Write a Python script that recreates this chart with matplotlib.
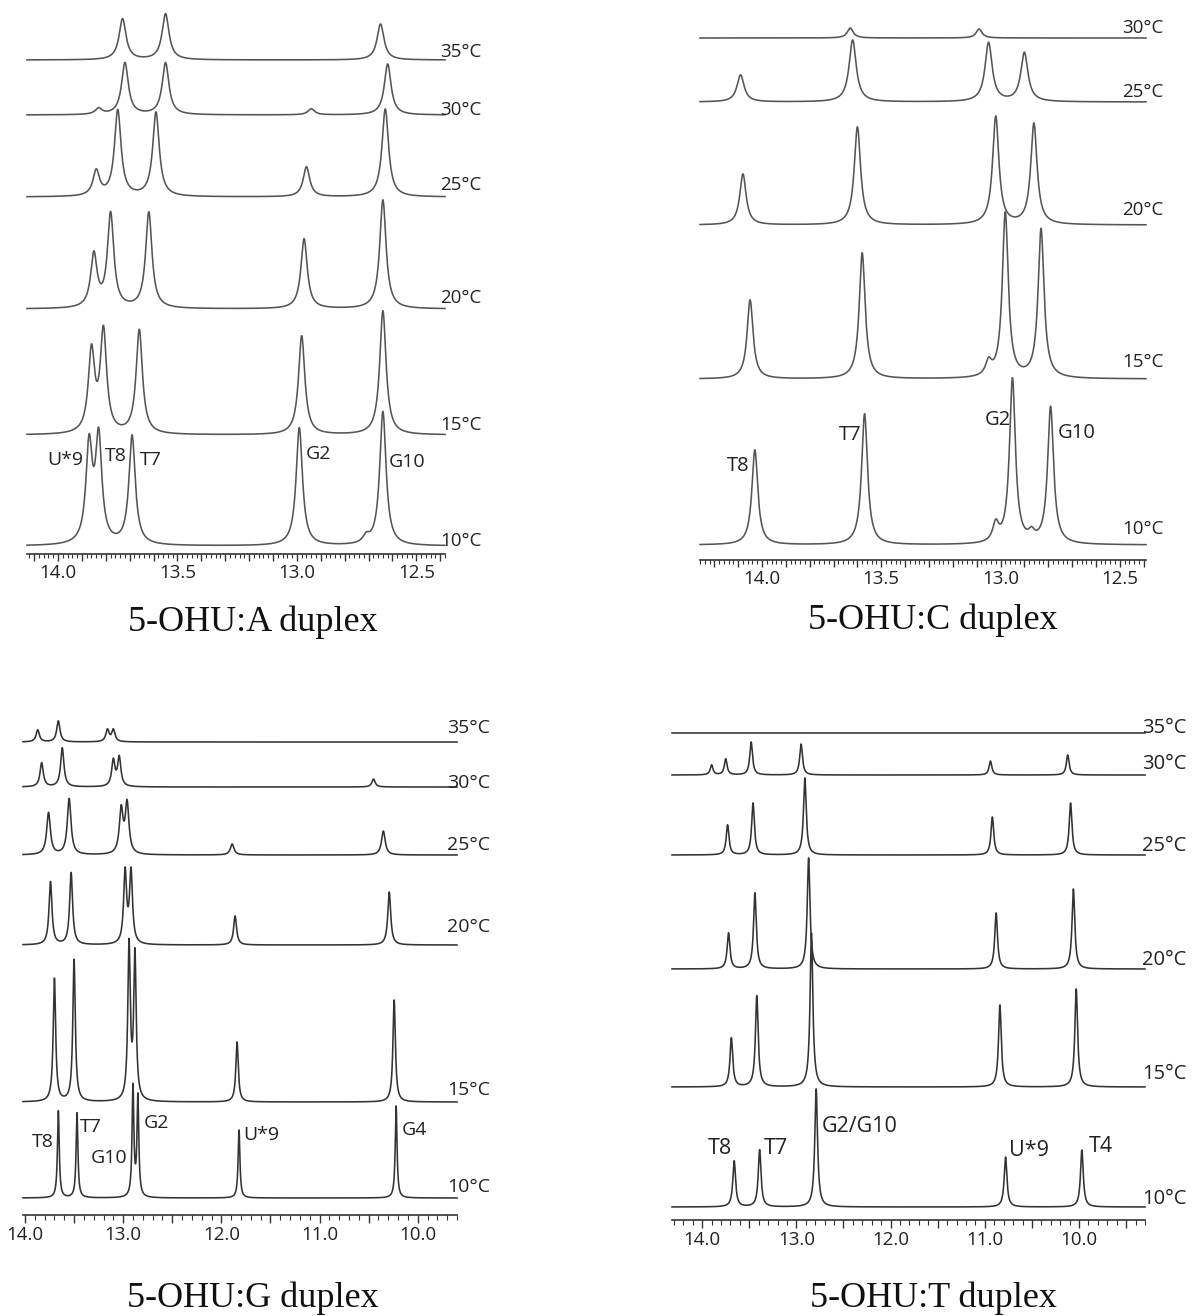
import numpy as np
import matplotlib
matplotlib.use("Agg")
import matplotlib.pyplot as plt
from matplotlib.ticker import MultipleLocator, FuncFormatter

plt.rcParams['font.family'] = ['Open Sans', 'DejaVu Sans']

W, H = 1196, 1316

# ---------------- data (chemical shift in ppm, peak heights in px) ----------------
temps_A = ['10°C', '15°C', '20°C', '25°C', '30°C', '35°C']
pos_A = [[13.87, 13.83, 13.69, 12.99, 12.64, 12.71],
         [13.86, 13.81, 13.66, 12.98, 12.64],
         [13.85, 13.78, 13.62, 12.97, 12.64],
         [13.84, 13.75, 13.59, 12.96, 12.63],
         [13.83, 13.72, 13.55, 12.94, 12.62],
         [13.73, 13.55, 12.65]]
hts_A = [[97, 104, 109, 118, 134, 7],
         [81, 101, 104, 99, 124],
         [53, 94, 96, 70, 109],
         [25, 86, 84, 30, 88],
         [6, 52, 52, 6, 51],
         [41, 46, 36]]
wid_A = [0.032, 0.032, 0.032, 0.033, 0.034, 0.035]
peaklab_A = [('U*9', 13.97, 94), ('T8', 13.76, 98), ('T7', 13.61, 94),
             ('G2', 12.91, 100), ('G10', 12.54, 92)]

temps_C = ['10°C', '15°C', '20°C', '25°C', '30°C']
pos_C = [[14.03, 13.57, 12.95, 12.79, 13.02, 12.87],
         [14.05, 13.58, 12.98, 12.83, 13.05],
         [14.08, 13.60, 13.02, 12.86],
         [14.09, 13.62, 13.05, 12.90],
         [13.63, 13.09]]
hts_C = [[95, 131, 165, 137, 18, 8],
         [79, 126, 165, 149, 14],
         [51, 98, 108, 101],
         [27, 62, 59, 49],
         [10, 9]]
wid_C = [0.03, 0.03, 0.032, 0.036, 0.03]
peaklab_C = [('T8', 14.10, 94), ('T7', 13.63, 125), ('G2', 13.01, 140), ('G10', 12.68, 127)]

temps_G = ['10°C', '15°C', '20°C', '25°C', '30°C', '35°C']
pos_G = [[13.66, 13.47, 12.90, 12.85, 11.82, 10.22],
         [13.70, 13.50, 12.94, 12.88, 11.84, 10.24],
         [13.74, 13.53, 12.98, 12.92, 11.86, 10.29],
         [13.76, 13.55, 13.02, 12.96, 11.89, 10.35],
         [13.83, 13.62, 13.10, 13.04, 10.45],
         [13.87, 13.66, 13.16, 13.10]]
hts_G = [[87, 85, 110, 100, 68, 92],
         [123, 142, 155, 145, 60, 102],
         [63, 72, 72, 72, 29, 53],
         [42, 56, 44, 50, 11, 24],
         [24, 39, 26, 29, 8],
         [12, 21, 12, 12]]
wid_G = [0.022, 0.03, 0.036, 0.045, 0.04, 0.04]
peaklab_G = [('T8', 13.82, 73), ('T7', 13.33, 88), ('G10', 13.14, 57),
             ('G2', 12.66, 92), ('U*9', 11.59, 80), ('G4', 10.03, 85)]

temps_T = ['10°C', '15°C', '20°C', '25°C', '30°C', '35°C']
pos_T = [[13.66, 13.39, 12.79, 10.78, 9.97],
         [13.69, 13.42, 12.84, 10.84, 10.03],
         [13.72, 13.44, 12.87, 10.88, 10.06],
         [13.73, 13.46, 12.91, 10.92, 10.09],
         [13.90, 13.75, 13.48, 12.95, 10.94, 10.12],
         []]
hts_T = [[46, 57, 118, 50, 57],
         [49, 91, 154, 82, 98],
         [36, 76, 111, 56, 80],
         [30, 52, 77, 38, 52],
         [10, 16, 33, 31, 14, 20],
         []]
wid_T = [0.035, 0.035, 0.035, 0.035, 0.035, 0.035]
peaklab_T = [('T8', 13.81, 71), ('T7', 13.22, 71), ('G2/G10', 12.33, 94),
             ('U*9', 10.53, 69), ('T4', 9.77, 73)]

titles = ['5-OHU:A duplex', '5-OHU:C duplex', '5-OHU:G duplex', '5-OHU:T duplex']

# ---------------- layout ----------------
panels = [
    dict(rect=(27, 0, 445, 554), xlim=(14.13, 12.38), temps=temps_A, pos=pos_A, hts=hts_A,
         wid=wid_A, offs=[8, 119, 245, 357, 439, 494], laby=[13, 129, 256, 369, 444, 502],
         labx=12.40, tfs=13.5, pfs=14, color='#555555', plabs=peaklab_A, fine=True,
         title=titles[0], txy=(253, 622)),
    dict(rect=(700, 0, 1146, 560), xlim=(14.26, 12.39), temps=temps_C, pos=pos_C, hts=hts_C,
         wid=wid_C, offs=[15, 181, 335, 458, 522], laby=[31, 198, 350, 468, 532],
         labx=12.49, tfs=13.5, pfs=14.5, color='#555555', plabs=peaklab_C, fine=True,
         title=titles[1], txy=(933, 620)),
    dict(rect=(23, 680, 457, 1215), xlim=(14.02, 9.60), temps=temps_G, pos=pos_G, hts=hts_G,
         wid=wid_G, offs=[17, 113, 270, 360, 428, 473], laby=[28, 125, 288, 370, 432, 487],
         labx=9.70, tfs=14, pfs=14, color='#333333', plabs=peaklab_G, fine=False,
         title=titles[2], txy=(253, 1298)),
    dict(rect=(672, 680, 1145, 1220), xlim=(14.32, 9.30), temps=temps_T, pos=pos_T, hts=hts_T,
         wid=wid_T, offs=[13, 133, 251, 365, 445, 487], laby=[21, 146, 260, 374, 456, 492],
         labx=9.33, tfs=14.5, pfs=15.5, color='#333333', plabs=peaklab_T, fine=False,
         title=titles[3], txy=(933, 1298)),
]

fig = plt.figure(figsize=(W / 100, H / 100), dpi=100)
fig.patch.set_facecolor('white')


def spectrum(x, pos, hts, w):
    y = np.zeros_like(x)
    for p, h in zip(pos, hts):
        y += h / (1.0 + ((x - p) / (w / 2.0)) ** 2)
    return y


for P in panels:
    x0, y0, x1, y1 = P['rect']
    ax = fig.add_axes([x0 / W, 1 - y1 / H, (x1 - x0) / W, (y1 - y0) / H])
    ax.set_xlim(*P['xlim'])
    ax.set_ylim(0, y1 - y0)
    x = np.linspace(P['xlim'][0], P['xlim'][1], 5000)
    for t, pos, hts, w, off, ly in zip(P['temps'], P['pos'], P['hts'], P['wid'],
                                       P['offs'], P['laby']):
        y = spectrum(x, pos, hts, w) + off
        ax.plot(x, y, color=P['color'], lw=1.15, clip_on=False)
        ax.text(P['labx'], ly, t, ha='left', va='center', fontsize=P['tfs'],
                color='#222222', clip_on=False)
    for lab, lx, ly in P['plabs']:
        ax.text(lx, ly, lab, ha='center', va='center', fontsize=P['pfs'],
                color='#222222', clip_on=False)
    for s in ['top', 'left', 'right']:
        ax.spines[s].set_visible(False)
    ax.spines['bottom'].set_color('#333333')
    ax.spines['bottom'].set_linewidth(1.2)
    ax.set_yticks([])
    ax.patch.set_alpha(0)
    if P['fine']:
        ax.xaxis.set_major_locator(MultipleLocator(0.1))
        ax.xaxis.set_minor_locator(MultipleLocator(0.02))
        fmt = FuncFormatter(lambda v, _: f'{v:.1f}' if abs(v * 2 - round(v * 2)) < 1e-6 else '')
        ax.tick_params(axis='x', which='major', length=5, width=1.0, color='#333333')
        ax.tick_params(axis='x', which='minor', length=3, width=0.8, color='#333333')
    else:
        ax.xaxis.set_major_locator(MultipleLocator(0.5))
        ax.xaxis.set_minor_locator(MultipleLocator(0.1))
        fmt = FuncFormatter(lambda v, _: f'{v:.1f}' if abs(v - round(v)) < 1e-6 else '')
        ax.tick_params(axis='x', which='major', length=6, width=1.0, color='#333333')
        ax.tick_params(axis='x', which='minor', length=3.5, width=0.8, color='#333333')
    ax.xaxis.set_major_formatter(fmt)
    ax.tick_params(axis='x', labelsize=13.5, labelcolor='#222222', pad=2)
    fig.text(P['txy'][0] / W, 1 - P['txy'][1] / H, P['title'], ha='center', va='center',
             fontsize=26, family='Liberation Serif', color='#111111')

fig.savefig('out.png', dpi=100, facecolor='white')
